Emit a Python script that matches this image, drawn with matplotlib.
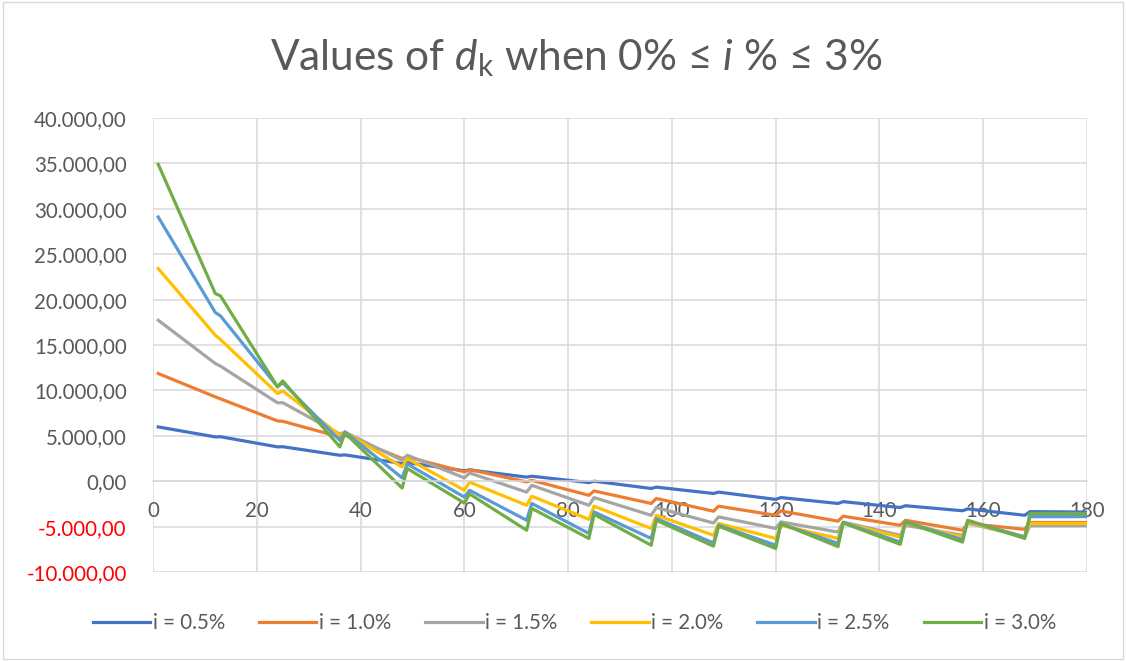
import matplotlib.pyplot as plt
from matplotlib.patches import Rectangle
from matplotlib.ticker import FuncFormatter, MultipleLocator

plt.rcParams["font.family"] = ["Lato", "DejaVu Sans"]
plt.rcParams["mathtext.fontset"] = "custom"
plt.rcParams["mathtext.rm"] = "Lato"
plt.rcParams["mathtext.it"] = "Lato:italic"

# month index k of the vertices (yearly saw-tooth)
k = [1, 12, 13, 24, 25, 36, 37, 48, 49, 60, 61, 72, 73, 84, 85,
     96, 97, 108, 109, 120, 121, 132, 133, 144, 145, 156, 157, 168, 169, 180]

d_05 = [5980, 4880, 4900, 3780, 3800, 2860, 2900, 1950, 2050, 1150, 1250, 450, 550, -150, 0,
        -800, -650, -1350, -1200, -2000, -1800, -2450, -2250, -2900, -2700, -3250, -3050, -3750, -3350, -3400]
d_10 = [11860, 9290, 9070, 6640, 6600, 4880, 5060, 2500, 2680, 1030, 1280, -70, 100, -1550, -1070,
        -2450, -1900, -3300, -2750, -3750, -3270, -4400, -3850, -4850, -4300, -5400, -4650, -5300, -4550, -4550]
d_15 = [17730, 12960, 12670, 8630, 8650, 5200, 5400, 2310, 2860, 370, 910, -1200, -450, -2650, -1800,
        -3750, -2900, -4600, -3930, -5200, -4480, -5600, -4500, -5950, -4850, -5950, -4600, -6150, -4900, -4900]
d_20 = [23420, 16080, 15600, 9660, 9950, 5060, 5400, 1580, 2500, -990, -100, -2650, -1650, -4200, -2750,
        -5200, -3750, -5950, -4650, -6300, -4850, -6300, -4600, -6150, -4600, -6150, -4500, -6100, -4650, -4650]
d_25 = [29100, 18580, 18200, 10400, 10850, 4500, 5430, 370, 1900, -1750, -1000, -4300, -2450, -5750, -3380,
        -6300, -4100, -6800, -4850, -7050, -4700, -6850, -4550, -6700, -4450, -6450, -4350, -6150, -3900, -3900]
d_30 = [34900, 20670, 20410, 10400, 11050, 3780, 5300, -750, 1400, -2400, -1400, -5400, -3000, -6300, -3650,
        -7050, -4300, -7150, -4950, -7400, -4650, -7200, -4590, -6950, -4480, -6700, -4300, -6300, -3550, -3550]

labels = ["i = 0.5%", "i = 1.0%", "i = 1.5%", "i = 2.0%", "i = 2.5%", "i = 3.0%"]
colors = ["#4472C4", "#ED7D31", "#A5A5A5", "#FFC000", "#5B9BD5", "#70AD47"]
series = [d_05, d_10, d_15, d_20, d_25, d_30]

fig = plt.figure(figsize=(11.26, 6.61), dpi=100)
ax = fig.add_axes([0.1359, 0.1346, 0.8295, 0.6869])

for vals, lab, col in zip(series, labels, colors):
    ax.plot(k, vals, color=col, lw=2.3, label=lab, solid_joinstyle="round")

ax.set_xlim(0, 180)
ax.set_ylim(-10000, 40000)
ax.xaxis.set_major_locator(MultipleLocator(20))
ax.yaxis.set_major_locator(MultipleLocator(5000))
ax.grid(True, color="#D9D9D9", lw=1.1)
ax.set_axisbelow(True)

for side in ["top", "right", "left"]:
    ax.spines[side].set_visible(False)
ax.spines["bottom"].set_position(("data", 0))
ax.spines["bottom"].set_color("#D9D9D9")
ax.spines["bottom"].set_linewidth(1.1)


def euro_fmt(v, pos):
    s = f"{v:,.2f}"
    return s.replace(",", "X").replace(".", ",").replace("X", ".")


ax.yaxis.set_major_formatter(FuncFormatter(euro_fmt))
ax.tick_params(axis="y", length=0, pad=19, labelsize=14.8, labelcolor="#595959")
ax.tick_params(axis="x", length=0, pad=14, labelsize=14.8, labelcolor="#595959")
fig.canvas.draw()
for t in ax.get_yticklabels():
    if t.get_position()[1] < 0:
        t.set_color("red")

fig.text(0.512, 0.912, r"Values of $d_{\mathrm{k}}$ when 0% ≤ $i$ % ≤ 3%",
         ha="center", va="center", fontsize=30.5, color="#595959")

fig.legend(loc="center", bbox_to_anchor=(0.51, 0.0575), ncol=6, frameon=False,
           fontsize=14.8, handlelength=2.8, handletextpad=0.12, columnspacing=1.65,
           labelcolor="#595959")

fig.add_artist(Rectangle((0.003, 0.003), 0.994, 0.994, transform=fig.transFigure,
                         fill=False, edgecolor="#D9D9D9", lw=1))

fig.savefig("out.png", dpi=100)
